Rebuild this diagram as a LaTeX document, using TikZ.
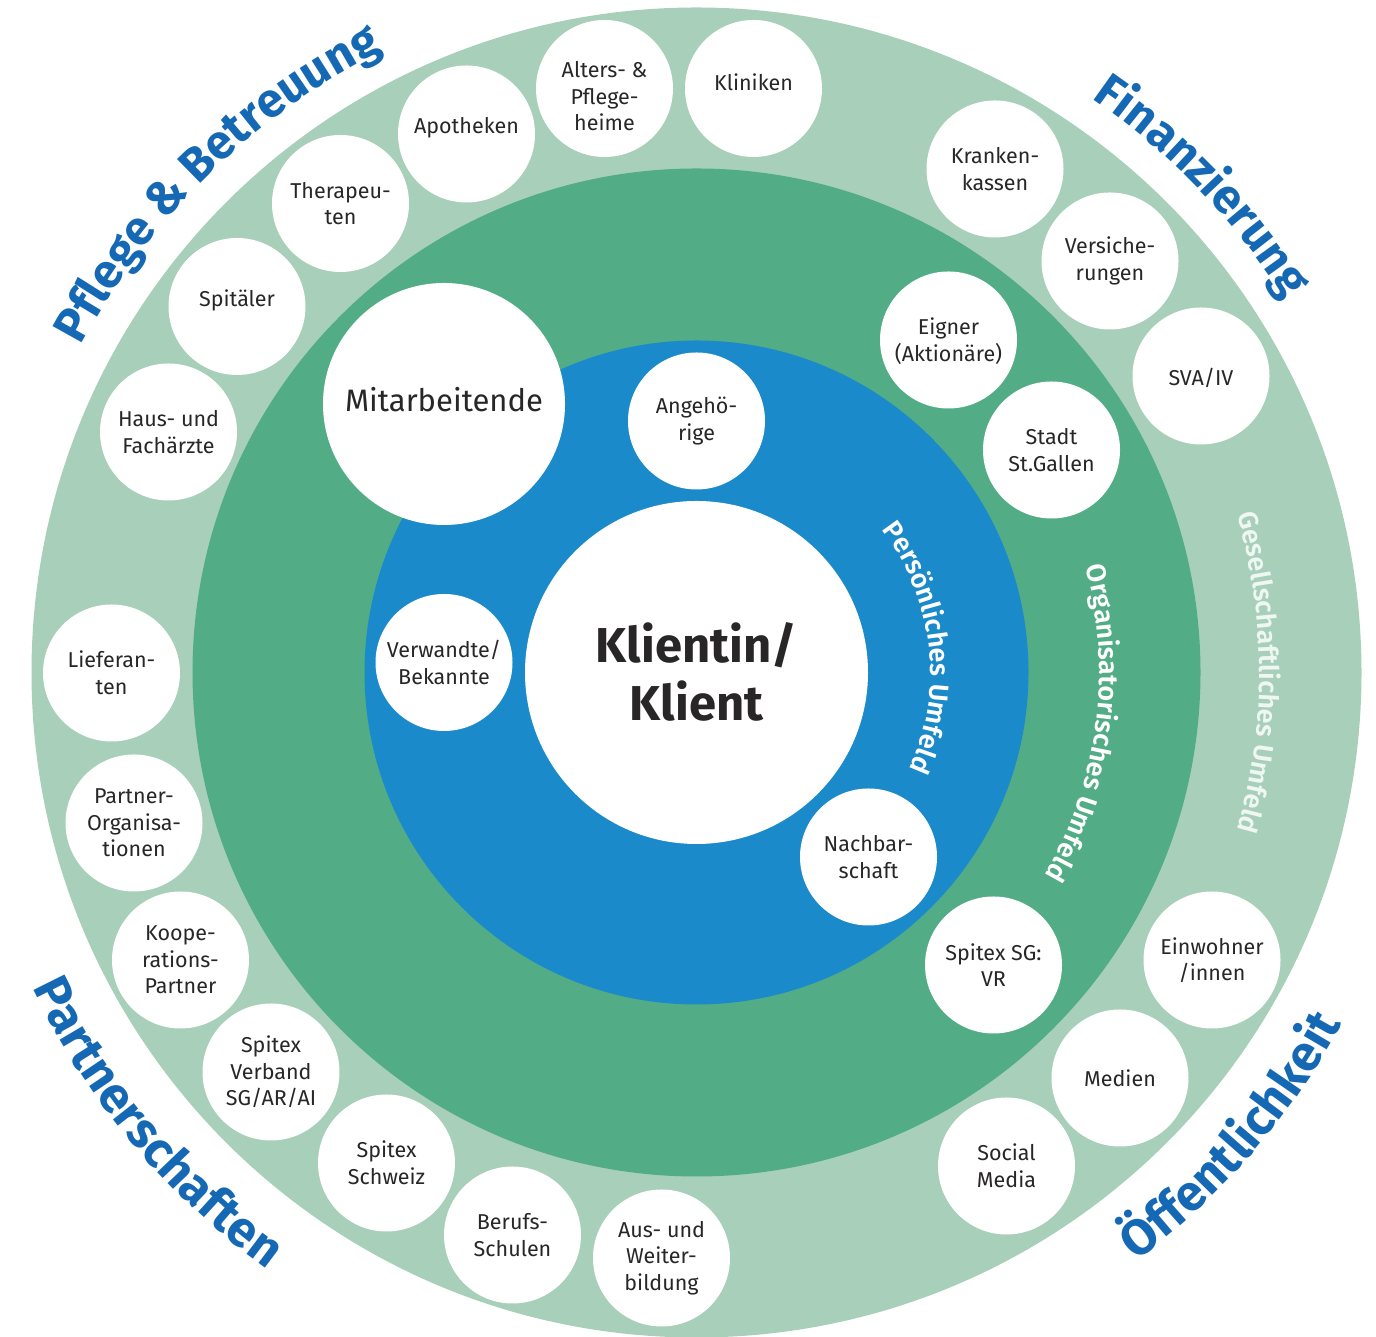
\documentclass[tikz,border=0pt]{standalone}
\usepackage{fontspec}
\setmainfont{Fira Sans}
\IfFontExistsTF{Fira Sans SemiBold}{\newfontfamily\semifont{Fira Sans SemiBold}}{\newfontfamily\semifont{Fira Sans}[FakeBold=1.2]}
\usetikzlibrary{decorations.text}
\definecolor{ringA}{RGB}{168,207,186}
\definecolor{ringB}{RGB}{82,173,134}
\definecolor{ringC}{RGB}{27,138,203}
\definecolor{hdr}{RGB}{21,104,179}
\definecolor{txt}{RGB}{40,38,38}
\definecolor{gtext}{RGB}{238,247,242}
\newcommand\hdrfont{\bfseries\fontsize{48}{50}\selectfont}
\newcommand\hdrfontb{\bfseries\fontsize{50}{52}\selectfont}
\newcommand\ringfont{\semifont\fontsize{27}{30}\selectfont}
\newcommand\bub[5]{%
  \node[bubble] (#1) at (#2,{1337-(#3)}) {};
  \node[lbl] (#1-t) at (#2,{1337-(#3)-(#4)}) {#5};
}
\begin{document}
\begin{tikzpicture}[x=1pt,y=1pt,
  bubble/.style={circle,fill=white,minimum size=137,inner sep=0pt},
  lbl/.style={align=center,text=txt,inner sep=0pt,font=\fontsize{21.5}{26.5}\selectfont},
  hdrtext/.style={decorate,decoration={text along path,text align=center,text color=hdr,text={|\hdrfont|#1}}},
  hdrtextb/.style={decorate,decoration={text along path,text align=center,text color=hdr,text={|\hdrfontb|#1}}},
  ringtext/.style 2 args={decorate,decoration={text along path,text align=center,text color=#1,text={|\ringfont|#2}}}
]
\useasboundingbox (0,0) rectangle (1376,1337);
\coordinate (C) at (696.5,664.5);
% rings
\fill[ringA] (C) circle[radius=665];
\fill[ringB] (C) circle[radius=504];
\fill[ringC] (C) circle[radius=332];
% ring labels
\path[shift={(696.5,664.5)},ringtext={white}{Persönliches Umfeld}] (51.6:234) arc[start angle=51.6,end angle=-38.4,radius=234];
\path[shift={(696.5,664.5)},ringtext={white}{Organisatorisches Umfeld}] (37.5:403) arc[start angle=37.5,end angle=-52.5,radius=403];
\path[shift={(696.5,664.5)},ringtext={gtext}{Gesellschaftliches Umfeld}] (40:563) arc[start angle=40,end angle=-40,radius=563];
% headers
\path[shift={(696.5,664.5)},hdrtext={Pflege {\&} Betreuung}] (164.4:697) arc[start angle=164.4,end angle=104.4,radius=697];
\path[shift={(696.5,664.5)},hdrtext={Finanzierung}] (73.9:697) arc[start angle=73.9,end angle=13.9,radius=697];
\path[shift={(696.5,664.5)},hdrtextb={Partnerschaften}] (189.8:735) arc[start angle=189.8,end angle=249.8,radius=735];
\path[shift={(696.5,664.5)},hdrtextb={Öffentlichkeit}] (289.1:735) arc[start angle=289.1,end angle=349.1,radius=735];
% bubbles
\bub{kliniken}{753.5}{88.5}{-6}{Kliniken}
\bub{alters}{604.5}{88.5}{8}{Alters- \&\\Pflege-\\heime}
\bub{apotheken}{466.5}{134}{-6}{Apotheken}
\bub{therapeuten}{340.5}{203.5}{0}{Therapeu-\\ten}
\bub{spitaeler}{237}{306.5}{-6}{Spitäler}
\bub{haus}{168.5}{432}{0}{Haus- und\\Fachärzte}
\bub{lieferanten}{111.5}{673}{0}{Lieferan-\\ten}
\bub{partnerorg}{134}{823}{0}{Partner-\\Organisa-\\tionen}
\bub{koop}{180.5}{960}{0}{Koope-\\rations-\\Partner}
\bub{verband}{271}{1072}{0}{Spitex\\Verband\\SG/AR/AI}
\bub{schweiz}{386.5}{1163}{0}{Spitex\\Schweiz}
\bub{berufs}{512.5}{1235}{0}{Berufs-\\Schulen}
\bub{aus}{661.5}{1258}{0}{Aus- und\\Weiter-\\bildung}
\bub{social}{1006.5}{1166}{0}{Social\\Media}
\bub{medien}{1120}{1078}{0}{Medien}
\bub{einwohner}{1212}{960}{0}{Einwohner\\/innen}
\bub{spitexsg}{993.5}{965}{0}{Spitex SG:\\VR}
\bub{nachbar}{868.5}{857}{0}{Nachbar-\\schaft}
\bub{sva}{1201}{376}{2}{SVA/IV}
\bub{versich}{1110}{261}{0}{Versiche-\\rungen}
\bub{kranken}{995}{169}{0}{Kranken-\\kassen}
\bub{eigner}{948.5}{340}{1}{Eigner\\(Aktionäre)}
\bub{stadt}{1051.5}{450}{0}{Stadt\\St.Gallen}
\bub{angeh}{696.5}{421}{0}{Angehö-\\rige}
\bub{verwandte}{444}{662.5}{0}{Verwandte/\\Bekannte}
% big circles
\node[circle,fill=white,minimum size=242,inner sep=0pt] (mitarb) at (444,{1337-404}) {};
\node[text=txt,inner sep=0pt,font=\fontsize{31}{36}\selectfont] (mitarb-t) at (444,{1337-400}) {Mitarbeitende};
\node[circle,fill=white,minimum size=343,inner sep=0pt] (klient) at (C) {};
\node[text=txt,align=center,inner sep=0pt,font=\bfseries\fontsize{49}{58}\selectfont] (klient-t) at (696.5,{1337-672}) {Klientin/\\Klient};
\end{tikzpicture}
\end{document}
